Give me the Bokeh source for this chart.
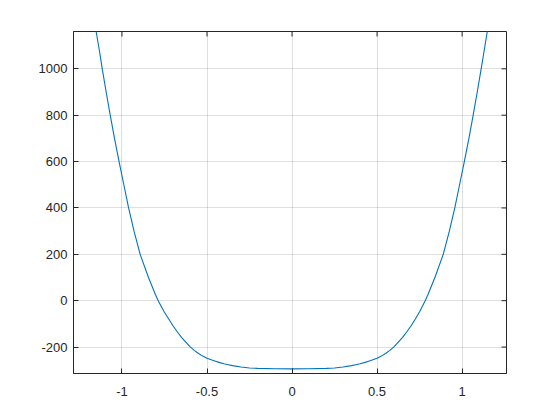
import math
from bokeh.plotting import figure
from bokeh.models import FixedTicker, Range1d
from bokeh.embed import file_html
from bokeh.resources import INLINE

# values
x_vals = [-1.185, -1.152, -1.133, -1.116, -1.093, -1.069, -1.044, -1.017, -0.989,
          -0.961, -0.929, -0.893, -0.844, -0.804, -0.787, -0.752, -0.725, -0.70,
          -0.675, -0.65, -0.625, -0.60, -0.575, -0.55, -0.525, -0.50, -0.475,
          -0.45, -0.425, -0.40, -0.375, -0.35, -0.30, -0.25, -0.20, -0.10,
          0.0,
          0.10, 0.20, 0.25, 0.30, 0.35, 0.375, 0.40, 0.425, 0.45, 0.475, 0.50,
          0.525, 0.55, 0.575, 0.60, 0.625, 0.65, 0.675, 0.70, 0.725, 0.75, 0.783,
          0.80, 0.84, 0.889, 0.925, 0.957, 0.985, 1.013, 1.04, 1.065, 1.089,
          1.112, 1.13, 1.148, 1.181]
y_vals = [1320, 1161, 1080, 1000, 900, 800, 700, 600, 500,
          400, 300, 200, 100, 28, 0, -48, -79, -108,
          -134, -158, -179, -198, -214, -228, -239, -248, -255,
          -261, -267, -272, -276, -280, -286, -290, -292, -293.5,
          -294,
          -293.5, -292, -290, -286, -280, -276, -272, -267, -261, -255, -248,
          -239, -228, -214, -198, -179, -158, -134, -108, -79, -48, 0,
          28, 100, 200, 300, 400, 500, 600, 700, 800, 900,
          1000, 1080, 1161, 1320]

x_ticks = [-1, -0.5, 0, 0.5, 1]
x_tick_labels = ["-1", "-0.5", "0", "0.5", "1"]
y_ticks = [-200, 0, 200, 400, 600, 800, 1000]
y_tick_labels = ["-200", "0", "200", "400", "600", "800", "1000"]

FONT = "Liberation Sans"
AX = "#262626"

xr = Range1d(-1.285, 1.261)
yr = Range1d(-314, 1161)

p = figure(width=552, height=412, output_backend="svg", toolbar_location=None,
           x_range=xr, y_range=yr,
           min_border_left=73, min_border_right=46, min_border_top=31,
           min_border_bottom=39)
p.background_fill_color = "white"
p.border_fill_color = "white"
p.outline_line_color = AX
p.outline_line_width = 1

p.line(x_vals, y_vals, line_color="#0072BD", line_width=1.1)

def style(ax, ticks, labels, standoff):
    ax.ticker = FixedTicker(ticks=ticks)
    ax.major_label_overrides = {t: l for t, l in zip(ticks, labels)}
    ax.axis_line_color = AX
    ax.major_tick_line_color = AX
    ax.major_tick_in = 5
    ax.major_tick_out = 0
    ax.minor_tick_line_color = None
    ax.major_label_text_font = FONT
    ax.major_label_text_color = AX
    ax.major_label_text_font_size = "13px"
    ax.major_label_standoff = standoff

style(p.xaxis[0], x_ticks, x_tick_labels, standoff=13)
style(p.yaxis[0], y_ticks, y_tick_labels, standoff=6)

# inward ticks on the top and right edges of the box (half clipped by the frame)
p.scatter(x_ticks, [yr.end] * len(x_ticks), marker="dash", size=10,
          angle=math.pi / 2, line_color=AX, line_width=1)
p.scatter([xr.end] * len(y_ticks), y_ticks, marker="dash", size=10,
          line_color=AX, line_width=1)

for g, t in ((p.xgrid[0], x_ticks), (p.ygrid[0], y_ticks)):
    g.ticker = FixedTicker(ticks=t)
    g.grid_line_color = AX
    g.grid_line_alpha = 0.15

open("out.html", "w").write(file_html(p, INLINE))
